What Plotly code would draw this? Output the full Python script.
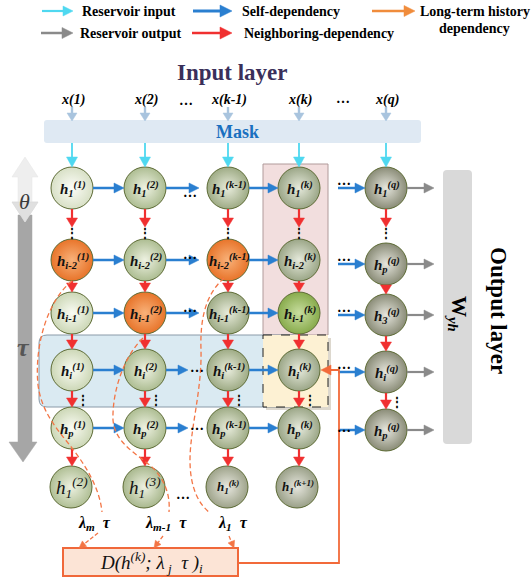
import plotly.graph_objects as go

W, H = 531, 578
SERIF = "Liberation Serif"

# ---------------- data (labels / semantics) ----------------
legend_row1 = ["Reservoir input", "Self-dependency", "Long-term history"]
legend_row2 = ["Reservoir output", "Neighboring-dependency", "dependency"]
inputs = ["x(1)", "x(2)", "x(k-1)", "x(k)", "x(q)"]
col_sup = ["(1)", "(2)", "(k-1)", "(k)", "(q)"]
row_sub = ["1", "i-2", "i-1", "i", "p"]
last_col_sub = ["1", "p", "3", "i", "p"]
bottom_sub = ["1", "1", "1", "1"]
bottom_sup = ["(2)", "(3)", "(k)", "(k+1)"]
lambda_subs = ["m", "m-1", "1"]
history_nodes = [(1, 0), (2, 1), (1, 2)]   # (row, col) long-term history nodes
current_node = (2, 3)                       # h_{i-1}^(k)

# ---------------- layout constants ----------------
col_x = [72, 145, 228, 299, 386]
row_y = [188, 260, 313, 370, 428]
col5_y = [188, 264, 315, 372, 430]
bot_x = [71, 144, 227, 297]
bot_y = 487
R = 21

col_edge = ["#ccd7b6", "#adbd92", "#9eab85", "#9ba687", "#8a8c77"]
col_center = ["#fafcf4", "#eef2e2", "#e8ecdc", "#e6eadc", "#e6e6de"]
bot_edge = ["#b0bf95", "#a9b88e", "#9ea38a", "#9aa088"]
bot_center = ["#eef2e2", "#edf1e1", "#e8e8e0", "#e6e6de"]

annotations = []
shapes = []


def arrow(x0, y0, x1, y1, color, width=2.0, hl=9, hw=10, dash="solid"):
    dx, dy = x1 - x0, y1 - y0
    n = (dx * dx + dy * dy) ** 0.5
    ux, uy = dx / n, dy / n
    bx, by = x1 - hl * ux, y1 - hl * uy
    px, py = -uy * hw / 2, ux * hw / 2
    if n > hl:
        shapes.append(dict(type="line", x0=x0, y0=y0, x1=bx + ux, y1=by + uy,
                           xref="x", yref="y", layer="above",
                           line=dict(color=color, width=width, dash=dash)))
    shapes.append(dict(type="path", xref="x", yref="y", layer="above",
                       path=f"M{x1},{y1} L{bx+px},{by+py} L{bx-px},{by-py} Z",
                       fillcolor=color, line=dict(color=color, width=0.5)))


def text(x, y, s, size=14, color="black", bold=False, italic=False,
         anchor="center", angle=0, family=SERIF):
    annotations.append(dict(x=x, y=y, xref="x", yref="y", text=s,
                            showarrow=False, xanchor=anchor, yanchor="middle",
                            textangle=angle,
                            font=dict(family=family, size=size, color=color,
                                      weight="bold" if bold else "normal",
                                      style="italic" if italic else "normal")))


def rrect(x0, y0, x1, y1, r, fill, line="rgba(0,0,0,0)", lw=1, dash="solid", layer="below"):
    p = (f"M{x0+r},{y0} L{x1-r},{y0} Q{x1},{y0} {x1},{y0+r} L{x1},{y1-r} "
         f"Q{x1},{y1} {x1-r},{y1} L{x0+r},{y1} Q{x0},{y1} {x0},{y1-r} "
         f"L{x0},{y0+r} Q{x0},{y0} {x0+r},{y0} Z")
    shapes.append(dict(type="path", path=p, xref="x", yref="y", fillcolor=fill,
                       line=dict(color=line, width=lw, dash=dash), layer=layer))


def rect(x0, y0, x1, y1, fill, line="rgba(0,0,0,0)", lw=1, dash="solid", layer="below"):
    shapes.append(dict(type="rect", x0=x0, y0=y0, x1=x1, y1=y1, xref="x", yref="y",
                       fillcolor=fill, line=dict(color=line, width=lw, dash=dash),
                       layer=layer))


def path(p, color, width=1.3, dash="solid", fill=None, layer="above"):
    d = dict(type="path", path=p, xref="x", yref="y",
             line=dict(color=color, width=width, dash=dash), layer=layer)
    if fill:
        d["fillcolor"] = fill
    shapes.append(d)


# ---------------- legend ----------------
CYAN, BLUE, ORANGE, GRAY, RED = "#4fd8f0", "#2a7fd0", "#f08c3c", "#8a8a8a", "#f03030"
arrow(42, 11, 73, 11, CYAN, 2.2, 10, 10)
arrow(193, 11, 232, 11, BLUE, 3, 12, 12)
arrow(372, 11, 415, 11, ORANGE, 2.5, 11, 11)
arrow(41, 33, 73, 33, GRAY, 2.5, 11, 11)
arrow(192, 33, 232, 33, RED, 2.5, 12, 12)
text(80, 11, legend_row1[0], 14, bold=True, anchor="left")
text(240, 11, legend_row1[1], 14, bold=True, anchor="left")
text(418, 11, legend_row1[2], 14, bold=True, anchor="left")
text(78, 33, legend_row2[0], 14, bold=True, anchor="left")
text(242, 33, legend_row2[1], 14, bold=True, anchor="left")
text(474, 28, legend_row2[2], 14, bold=True)

# ---------------- backgrounds ----------------
rrect(44, 120, 421, 143, 3, "#dfe9f3")
rect(263, 164, 328, 335, "#f2dede", "#b09a9a", 1)
rrect(39, 335, 300, 407, 8, "#daeaf2", "#8a9aa8", 1)
rect(266, 338, 331, 410, "rgba(120,100,60,0.25)", layer="below")
rect(263, 335, 328, 407, "#fdf1d3", "#222222", 1, "dash")
rrect(443, 170, 472, 444, 4, "#d9d9d9")

# left double arrow (theta / tau)
path("M18,215 L32,215 L32,442 L37,442 L23,462 L9,442 L18,442 Z", "#a6a6a6", 0.5, fill="#a6a6a6", layer="below")
path("M25,157 L38,177 L32,177 L32,202 L38,202 L25,222 L12,202 L18,202 L18,177 L12,177 Z",
     "#e4e4e4", 0.5, fill="#eeeeee", layer="below")
path("M12,202 L38,202 L25,222 Z", "#d6d6d6", 0.5, fill="#e0e0e0", layer="below")
text(24, 201, "θ", 22, "#3a3a3a", italic=True)
text(23, 347, "τ", 26, "#555555", bold=True, italic=True)

# ---------------- titles ----------------
text(232, 72, "Input layer", 23, "#3a2f5a", bold=True)
text(237, 132, "Mask", 18, "#1a70c0", bold=True)
text(499, 310, "Output layer", 23, "black", bold=True, angle=90)
text(458, 314, "W<sub><i>yh</i></sub>", 21, "black", bold=True, angle=90)

# inputs
for c, lab in enumerate(inputs):
    text(col_x[c] + 1, 100, lab, 14, bold=True, italic=True)
    arrow(col_x[c], 107, col_x[c], 121, "#a9c4de", 2.4, 8, 10)
    arrow(col_x[c], 143, col_x[c], 167, CYAN, 1.8, 10, 11)
text(186, 100, "…", 14, bold=True)
text(343, 98, "…", 14, bold=True)

# ---------------- nodes ----------------
nx, ny, edges, centers = [], [], [], []
for c in range(5):
    for r in range(5):
        nx.append(col_x[c])
        ny.append(col5_y[r] if c == 4 else row_y[r])
        if (r, c) in history_nodes:
            edges.append("#e8742a"); centers.append("#f8b27a")
        elif (r, c) == current_node:
            edges.append("#88ab4c"); centers.append("#c8dea0")
        elif r == 0 and c == 0:
            edges.append("#d8e0c6"); centers.append("#fcfdf8")
        else:
            edges.append(col_edge[c]); centers.append(col_center[c])
        sub = last_col_sub[r] if c == 4 else row_sub[r]
        text(nx[-1] + 1, ny[-1] + 1, f"h<sub>{sub}</sub><sup>{col_sup[c]}</sup>",
             15, "#111111", bold=True, italic=True)
for b in range(4):
    nx.append(bot_x[b]); ny.append(bot_y)
    edges.append(bot_edge[b]); centers.append(bot_center[b])
    if b < 2:
        text(bot_x[b] + 1, bot_y, f"h<sub>{bottom_sub[b]}</sub><sup>{bottom_sup[b]}</sup>",
             19, "#111111", italic=True)
    else:
        text(bot_x[b] + 1, bot_y, f"h<sub>{bottom_sub[b]}</sub><sup>{bottom_sup[b]}</sup>",
             13, "#111111", bold=True, italic=True)

fig = go.Figure(go.Scatter(
    x=nx, y=ny, mode="markers", hoverinfo="skip",
    marker=dict(size=2 * R, color=edges,
                gradient=dict(type="radial", color=centers),
                line=dict(color="#5d6b35", width=1))))

# ---------------- vertical (neighboring) arrows ----------------
for c in range(5):
    ys = col5_y if c == 4 else row_y
    arrow(col_x[c], ys[0] + R, col_x[c], ys[0] + R + 18, RED, 2.2, 9, 11)
    text(col_x[c], ys[0] + R + 24, "⋮", 12, bold=True)
    for r in range(1, 4):
        arrow(col_x[c], ys[r] + R, col_x[c], ys[r + 1] - R, RED, 2.2, 9, 11)
    text(col_x[c] + 11, ys[3] + R + 9, "⋮", 12, bold=True)
    if c < 4:
        arrow(col_x[c], ys[4] + R, col_x[c], bot_y - R, RED, 2.2, 9, 11)
text(183, 494, "…", 14, bold=True)

# ---------------- horizontal (self) arrows ----------------
for r in range(5):
    y = row_y[r]
    y5 = col5_y[r]
    arrow(col_x[0] + R, y, col_x[1] - R, y, BLUE, 2.5, 10, 10)
    if r < 3:
        arrow(col_x[1] + R, y, col_x[1] + R + 33, y, BLUE, 2.5, 10, 10)
        text(190, y - 6 if r else y + 4, "…", 14, bold=True)
    else:
        arrow(col_x[1] + R, y, col_x[1] + R + 22, y, BLUE, 2.5, 10, 10)
        text(197, y - 3, "…", 14, bold=True)
    arrow(col_x[2] + R, y, col_x[3] - R, y, BLUE, 2.5, 10, 10)
    arrow(col_x[3] + R + 18, y5, col_x[4] - R, y5, BLUE, 2.5, 10, 10)
    text(344, y5 - 8 if r < 4 else y5 - 3, "…", 14, bold=True)
    arrow(col_x[4] + R, y5, 434, y5, GRAY, 2.2, 10, 10)

# ---------------- long-term history (orange dashed) ----------------
OR2 = "#f37545"
path("M72,281 C48,300 34,345 38,385 C42,415 60,432 75,452 C90,472 100,492 102,512",
     OR2, 1.3, "5px,3px")
path("M143,338 C125,355 112,390 113,420 C115,445 140,455 155,470 C168,485 170,500 169,512",
     OR2, 1.3, "5px,3px")
path("M224,278 C205,295 200,320 201,350 C202,390 190,430 190,460 C190,490 200,505 210,513",
     OR2, 1.3, "5px,3px")
for (x0, y0, x1, y1) in [(98, 533, 79, 548), (163, 536, 154, 548), (229, 536, 234, 548)]:
    arrow(x0, y0, x1, y1, OR2, 1.3, 7, 7, "4px,2px")

text(94, 523, f"λ<sub>{lambda_subs[0]}</sub>  τ", 16, bold=True, italic=True)
text(166, 523, f"λ<sub>{lambda_subs[1]}</sub>  τ", 16, bold=True, italic=True)
text(233, 523, f"λ<sub>{lambda_subs[2]}</sub>  τ", 16, bold=True, italic=True)

# D box and feedback line
rect(63, 548, 238, 576, "#fce4d6", "#f0683a", 2, layer="below")
text(151, 562, "D(h<sup>(k)</sup>; λ<sub> j</sub>  τ )<sub>i</sub>", 19, "#111111", italic=True)
path("M238,563 L339,563 L339,370 L331,370", "#f26a3a", 1.8)
arrow(334, 370, 321, 370, "#f26a3a", 1.8, 10, 10)

fig.update_layout(
    width=W, height=H, margin=dict(l=0, r=0, t=0, b=0),
    paper_bgcolor="white", plot_bgcolor="white", showlegend=False,
    xaxis=dict(range=[0, W], visible=False, fixedrange=True),
    yaxis=dict(range=[H, 0], visible=False, fixedrange=True),
    shapes=shapes, annotations=annotations,
)
fig.write_html("out.html", config={"displayModeBar": False},
               post_script="document.body.style.margin='0px';document.body.style.padding='0px';document.body.style.overflow='hidden';")
